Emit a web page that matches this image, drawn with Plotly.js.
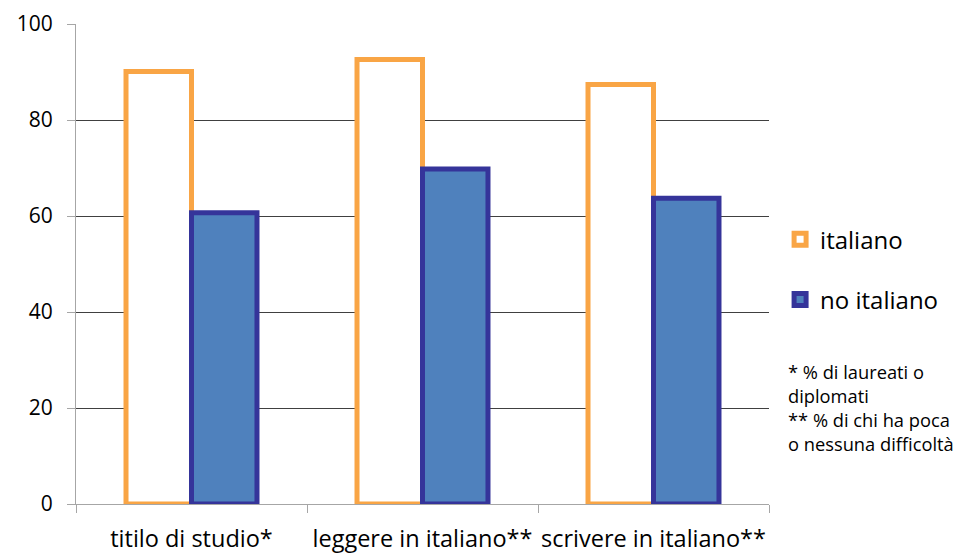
<!DOCTYPE html>
<html>
<head>
<meta charset="utf-8">
<script src="https://cdn.plot.ly/plotly-3.0.1.min.js"></script>
<style>
  html, body { margin: 0; padding: 0; background: #ffffff; }
  #chart { width: 958px; height: 553px; }
</style>
</head>
<body>
<div id="chart"></div>
<script>
// Categories and series values (percent)
var categories = ['titilo di studio*', 'leggere in italiano**', 'scrivere in italiano**'];
var italiano = [90.1, 92.6, 87.4];
var noItaliano = [60.7, 69.8, 63.7];
var yTicks = [0, 20, 40, 60, 80, 100];
var footnotes = ['* % di laureati o', 'diplomati', '** % di chi ha poca', 'o nessuna difficoltà'];

var FONT = '"Open Sans", Lato, sans-serif';

var traces = [
  {
    type: 'bar',
    name: 'italiano',
    legendgroup: 'it',
    x: categories,
    y: italiano,
    marker: { color: '#ffffff', line: { color: '#F9A545', width: 5 } },
    hoverinfo: 'y'
  },
  {
    type: 'bar',
    name: 'no italiano',
    legendgroup: 'noit',
    x: categories,
    y: noItaliano,
    marker: { color: '#4F81BD', line: { color: '#35349A', width: 5 } },
    hoverinfo: 'y'
  }
];

var annotations = footnotes.map(function (t, i) {
  return {
    text: t,
    xref: 'paper', yref: 'paper',
    x: 1.024, y: 0.2756 - i * 0.05,
    xanchor: 'left', yanchor: 'middle',
    showarrow: false,
    font: { family: FONT, size: 18.3, color: '#000000' }
  };
});

var layout = {
  width: 958,
  height: 553,
  margin: { l: 76, r: 189, t: 24, b: 49 },
  paper_bgcolor: '#ffffff',
  plot_bgcolor: '#ffffff',
  font: { family: FONT, size: 21, color: '#000000' },
  barmode: 'group',
  bargap: 0.433,
  bargroupgap: 0,
  showlegend: true,
  legend: {
    x: 1.016, y: 0.488,
    xanchor: 'left', yanchor: 'middle',
    tracegroupgap: 26,
    traceorder: 'grouped',
    font: { family: FONT, size: 24, color: '#000000' },
    itemwidth: 30,
    bgcolor: 'rgba(0,0,0,0)'
  },
  xaxis: {
    type: 'category',
    showline: true,
    linecolor: '#a6a6a6',
    linewidth: 1,
    ticks: 'outside',
    tickson: 'boundaries',
    ticklen: 8,
    tickcolor: '#a6a6a6',
    tickangle: 0,
    showgrid: false,
    zeroline: false,
    ticklabelstandoff: 14,
    tickfont: { family: FONT, size: 23.5, color: '#000000' }
  },
  yaxis: {
    range: [0, 100],
    tickvals: yTicks,
    ticktext: yTicks.map(String),
    showline: true,
    linecolor: '#a6a6a6',
    linewidth: 1,
    ticks: 'outside',
    ticklen: 8,
    tickcolor: '#a6a6a6',
    showgrid: true,
    gridcolor: '#404040',
    gridwidth: 1,
    zeroline: false,
    ticklabelstandoff: 10,
    tickfont: { family: FONT, size: 21, color: '#000000' }
  },
  annotations: annotations
};

Plotly.newPlot('chart', traces, layout, { displayModeBar: false, staticPlot: true });
</script>
</body>
</html>
